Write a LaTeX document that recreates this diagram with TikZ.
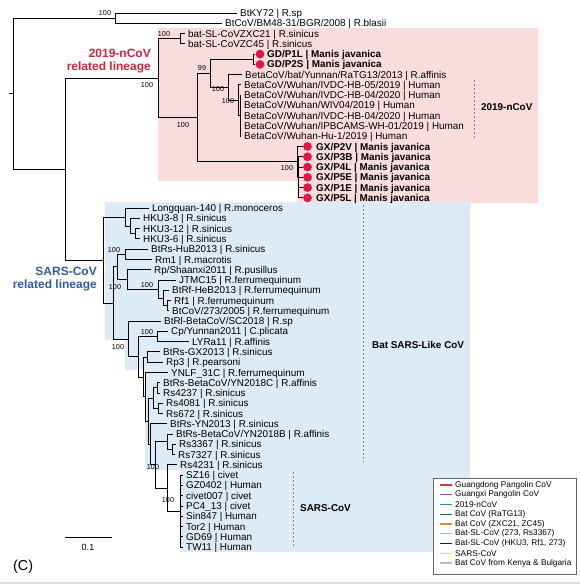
\documentclass[tikz,border=0pt]{standalone}
\usepackage{fontspec}
\setmainfont{Liberation Sans}
\usepackage{xcolor}
\definecolor{ncovpink}{HTML}{F9DDDD}
\definecolor{sarsblue}{HTML}{DDEBF6}
\definecolor{ncovred}{HTML}{D2233C}
\definecolor{sarsink}{HTML}{2F5BA5}
\definecolor{pangored}{HTML}{E3164B}
\definecolor{legGD}{HTML}{D9303E}
\definecolor{legGX}{HTML}{7B4BA6}
\definecolor{legNCoV}{HTML}{2A86C8}
\definecolor{legRaTG}{HTML}{1E6B36}
\definecolor{legZXC}{HTML}{E08A3C}
\definecolor{legRs}{HTML}{92C7B8}
\definecolor{legHKU}{HTML}{1B1A55}
\definecolor{legSARS}{HTML}{F7E342}
\definecolor{legKenya}{HTML}{BBBBBB}

\begin{document}
\begin{tikzpicture}[x=1pt,y=-1pt]
    % Define styles
    \tikzstyle{tiplabel}=[anchor=west, inner sep=0pt, text height=7.6pt, text depth=0.5pt, font=\fontsize{9.9}{10}\selectfont]
    \tikzstyle{boldtip}=[tiplabel, font=\fontsize{9.9}{10}\selectfont\bfseries]
    \tikzstyle{boot}=[inner sep=0pt, font=\fontsize{7.2}{8}\selectfont]
    \tikzstyle{pdot}=[circle, fill=pangored, inner sep=0pt, minimum size=8.8pt]
    \tikzstyle{edge}=[line width=0.9pt]
    \tikzstyle{twig}=[line width=0.9pt, shorten >=3pt]
    \tikzstyle{cladebar}=[gray, line width=0.6pt, dash pattern=on 2pt off 2pt]
    \tikzstyle{cladename}=[anchor=base west, inner sep=0pt, font=\fontsize{9.9}{10}\selectfont\bfseries]
    \tikzstyle{lineage}=[anchor=base east, inner sep=0pt, font=\fontsize{12}{14}\selectfont\bfseries]
    \tikzstyle{legtext}=[anchor=west, inner sep=0pt, font=\fontsize{8.3}{9}\selectfont]
    \tikzstyle{legline}=[line width=1.2pt]

    \useasboundingbox (0,0) rectangle (580,584);

    % Highlighted lineages
    \fill[ncovpink] (158,28) -- (538,28) -- (538,203) -- (297,203) -- (297,181) -- (158,181) -- cycle;
    \fill[sarsblue] (105,202) -- (470,202) -- (470,552) -- (180,552) -- (180,470) -- (145,470)
        -- (145,370) -- (125,370) -- (125,340) -- (105,340) -- cycle;

    % Internal nodes
    \coordinate (R) at (13,93.7);
    \coordinate (O) at (115,18.2);
    \coordinate (N) at (65,169.2);
    \coordinate (C) at (158,78.2);
    \coordinate (Z) at (180,38.7);
    \coordinate (P) at (197,117.7);
    \coordinate (W) at (210,73.4);
    \coordinate (GD) at (253,59.3);
    \coordinate (V) at (228,87.5);
    \coordinate (Wh) at (238,100.3);
    \coordinate (Wh2) at (240,115.7);
    \coordinate (GX) at (297,161.9);
    \coordinate (GXs) at (298.5,177.4);
    \coordinate (S) at (103,260.1);
    \coordinate (LQ) at (125,217.1);
    \coordinate (HK) at (130,226.1);
    \coordinate (HK2) at (135,233.8);
    \coordinate (B) at (113,303.0);
    \coordinate (B1) at (117,266.9);
    \coordinate (H) at (125,254.4);
    \coordinate (Q) at (127,279.4);
    \coordinate (J) at (158,289.0);
    \coordinate (J2) at (163,298.0);
    \coordinate (J3) at (167,305.7);
    \coordinate (B2) at (128,339.0);
    \coordinate (D1) at (138,356.8);
    \coordinate (CL) at (157,336.5);
    \coordinate (D2) at (143,377.0);
    \coordinate (G) at (147,357.1);
    \coordinate (D3) at (145,396.9);
    \coordinate (D4) at (148,421.3);
    \coordinate (E) at (153,398.2);
    \coordinate (E1) at (157,387.9);
    \coordinate (E2) at (158,408.4);
    \coordinate (D5) at (150,444.4);
    \coordinate (D6) at (155,464.9);
    \coordinate (K) at (167,441.8);
    \coordinate (K2) at (172,449.5);
    \coordinate (L) at (167,488.0);
    \coordinate (SC) at (180,511.1);

    % Tip labels: outgroup and 2019-nCoV lineage
    \node[tiplabel] (l1) at (240,13.0) {BtKY72 | R.sp};
    \node[tiplabel] (l2) at (225,23.3) {BtCoV/BM48-31/BGR/2008 | R.blasii};
    \node[tiplabel] (l3) at (188,33.5) {bat-SL-CoVZXC21 | R.sinicus};
    \node[tiplabel] (l4) at (188,43.8) {bat-SL-CoVZC45 | R.sinicus};
    \node[pdot] (d5) at (260,54.1) {};
    \node[pdot] (d6) at (260,64.4) {};
    \node[boldtip] (l5) at (267,54.1) {GD/P1L | Manis javanica};
    \node[boldtip] (l6) at (267,64.4) {GD/P2S | Manis javanica};
    \node[tiplabel] (l7) at (245,74.6) {BetaCoV/bat/Yunnan/RaTG13/2013 | R.affinis};
    \node[tiplabel] (l8) at (244,84.9) {BetaCoV/Wuhan/IVDC-HB-05/2019 | Human};
    \node[tiplabel] (l9) at (244,95.2) {BetaCoV/Wuhan/IVDC-HB-04/2020 | Human};
    \node[tiplabel] (l10) at (244,105.4) {BetaCoV/Wuhan/WIV04/2019 | Human};
    \node[tiplabel] (l11) at (244,115.7) {BetaCoV/Wuhan/IVDC-HB-04/2020 | Human};
    \node[tiplabel] (l12) at (244,126.0) {BetaCoV/Wuhan/IPBCAMS-WH-01/2019 | Human};
    \node[tiplabel] (l13) at (244,136.2) {BetaCoV/Wuhan-Hu-1/2019 | Human};
    \node[pdot] (d14) at (307.5,146.5) {};
    \node[pdot] (d15) at (307.5,156.8) {};
    \node[pdot] (d16) at (307.5,167.1) {};
    \node[pdot] (d17) at (307.5,177.3) {};
    \node[pdot] (d18) at (307.5,187.6) {};
    \node[pdot] (d19) at (307.5,197.9) {};
    \node[boldtip] (l14) at (316,146.5) {GX/P2V | Manis javanica};
    \node[boldtip] (l15) at (316,156.8) {GX/P3B | Manis javanica};
    \node[boldtip] (l16) at (316,167.1) {GX/P4L | Manis javanica};
    \node[boldtip] (l17) at (316,177.3) {GX/P5E | Manis javanica};
    \node[boldtip] (l18) at (316,187.6) {GX/P1E | Manis javanica};
    \node[boldtip] (l19) at (316,197.9) {GX/P5L | Manis javanica};

    % Tip labels: SARS-CoV lineage
    \node[tiplabel] (l20) at (152,208.1) {Longquan-140 | R.monoceros};
    \node[tiplabel] (l21) at (143,218.4) {HKU3-8 | R.sinicus};
    \node[tiplabel] (l22) at (143,228.7) {HKU3-12 | R.sinicus};
    \node[tiplabel] (l23) at (143,238.9) {HKU3-6 | R.sinicus};
    \node[tiplabel] (l24) at (151,249.2) {BtRs-HuB2013 | R.sinicus};
    \node[tiplabel] (l25) at (155,259.5) {Rm1 | R.macrotis};
    \node[tiplabel] (l26) at (154,269.8) {Rp/Shaanxi2011 | R.pusillus};
    \node[tiplabel] (l27) at (179,280.0) {JTMC15 | R.ferrumequinum};
    \node[tiplabel] (l28) at (172,290.3) {BtRf-HeB2013 | R.ferrumequinum};
    \node[tiplabel] (l29) at (174,300.6) {Rf1 | R.ferrumequinum};
    \node[tiplabel] (l30) at (172,310.8) {BtCoV/273/2005 | R.ferrumequinum};
    \node[tiplabel] (l31) at (164,321.1) {BtRl-BetaCoV/SC2018 | R.sp};
    \node[tiplabel] (l32) at (171,331.4) {Cp/Yunnan2011 | C.plicata};
    \node[tiplabel] (l33) at (192,341.6) {LYRa11 | R.affinis};
    \node[tiplabel] (l34) at (163,351.9) {BtRs-GX2013 | R.sinicus};
    \node[tiplabel] (l35) at (166,362.2) {Rp3 | R.pearsoni};
    \node[tiplabel] (l36) at (171,372.5) {YNLF\_31C | R.ferrumequinum};
    \node[tiplabel] (l37) at (163,382.7) {BtRs-BetaCoV/YN2018C | R.affinis};
    \node[tiplabel] (l38) at (163,393.0) {Rs4237 | R.sinicus};
    \node[tiplabel] (l39) at (166,403.3) {Rs4081 | R.sinicus};
    \node[tiplabel] (l40) at (166,413.5) {Rs672 | R.sinicus};
    \node[tiplabel] (l41) at (170,423.8) {BtRs-YN2013 | R.sinicus};
    \node[tiplabel] (l42) at (176,434.1) {BtRs-BetaCoV/YN2018B | R.affinis};
    \node[tiplabel] (l43) at (179,444.3) {Rs3367 | R.sinicus};
    \node[tiplabel] (l44) at (178,454.6) {Rs7327 | R.sinicus};
    \node[tiplabel] (l45) at (180,464.9) {Rs4231 | R.sinicus};
    \node[tiplabel] (l46) at (186,475.2) {SZ16 | civet};
    \node[tiplabel] (l47) at (186,485.4) {GZ0402 | Human};
    \node[tiplabel] (l48) at (186,495.7) {civet007 | civet};
    \node[tiplabel] (l49) at (186,506.0) {PC4\_13 | civet};
    \node[tiplabel] (l50) at (186,516.2) {Sin847 | Human};
    \node[tiplabel] (l51) at (186,526.5) {Tor2 | Human};
    \node[tiplabel] (l52) at (186,536.8) {GD69 | Human};
    \node[tiplabel] (l53) at (186,547.0) {TW11 | Human};

    % Backbone
    \draw[edge] (R) ++(-4,0) -- (R);
    \draw[edge] (R) |- (O);
    \draw[edge] (R) |- (N);
    \draw[twig] (O) |- (l1);
    \draw[twig] (O) |- (l2);
    \draw[edge] (N) |- (C);
    \draw[edge] (N) |- (S);

    % 2019-nCoV related lineage
    \draw[edge] (C) |- (Z);
    \draw[edge] (C) |- (P);
    \draw[twig] (Z) |- (l3);
    \draw[twig] (Z) |- (l4);
    \draw[edge] (P) |- (W);
    \draw[edge] (P) |- (GX);
    \draw[edge] (W) |- (GD);
    \draw[edge] (W) |- (V);
    \draw[edge] (GD) |- (d5);
    \draw[edge] (GD) |- (d6);
    \draw[twig] (V) |- (l7);
    \draw[edge] (V) |- (Wh);
    \draw[twig] (Wh) |- (l8);
    \draw[edge] (Wh) |- (Wh2);
    \draw[twig] (Wh2) |- (l9);
    \draw[twig] (Wh2) |- (l10);
    \draw[twig] (Wh2) |- (l11);
    \draw[twig] (Wh2) |- (l12);
    \draw[twig] (Wh2) |- (l13);
    \draw[edge] (GX) |- (d14);
    \draw[edge] (GX) |- (GXs);
    \draw[edge] (GXs) |- (d15);
    \draw[edge] (GXs) |- (d16);
    \draw[edge] (GXs) |- (d17);
    \draw[edge] (GXs) |- (d18);
    \draw[edge] (GXs) |- (d19);

    % SARS-CoV related lineage
    \draw[edge] (S) |- (LQ);
    \draw[edge] (S) |- (B);
    \draw[twig] (LQ) |- (l20);
    \draw[edge] (LQ) |- (HK);
    \draw[twig] (HK) |- (l21);
    \draw[edge] (HK) |- (HK2);
    \draw[twig] (HK2) |- (l22);
    \draw[twig] (HK2) |- (l23);
    \draw[edge] (B) |- (B1);
    \draw[edge] (B) |- (B2);
    \draw[edge] (B1) |- (H);
    \draw[edge] (B1) |- (Q);
    \draw[twig] (H) |- (l24);
    \draw[twig] (H) |- (l25);
    \draw[twig] (Q) |- (l26);
    \draw[edge] (Q) |- (J);
    \draw[twig] (J) |- (l27);
    \draw[edge] (J) |- (J2);
    \draw[twig] (J2) |- (l28);
    \draw[edge] (J2) |- (J3);
    \draw[twig] (J3) |- (l29);
    \draw[twig] (J3) |- (l30);
    \draw[twig] (B2) |- (l31);
    \draw[edge] (B2) |- (D1);
    \draw[edge] (D1) |- (CL);
    \draw[edge] (D1) |- (D2);
    \draw[twig] (CL) |- (l32);
    \draw[twig] (CL) |- (l33);
    \draw[edge] (D2) |- (G);
    \draw[edge] (D2) |- (D3);
    \draw[twig] (G) |- (l34);
    \draw[twig] (G) |- (l35);
    \draw[twig] (D3) |- (l36);
    \draw[edge] (D3) |- (D4);
    \draw[edge] (D4) |- (E);
    \draw[edge] (D4) |- (D5);
    \draw[edge] (E) |- (E1);
    \draw[edge] (E) |- (E2);
    \draw[twig] (E1) |- (l37);
    \draw[twig] (E1) |- (l38);
    \draw[twig] (E2) |- (l39);
    \draw[twig] (E2) |- (l40);
    \draw[twig] (D5) |- (l41);
    \draw[edge] (D5) |- (D6);
    \draw[edge] (D6) |- (K);
    \draw[edge] (D6) |- (L);
    \draw[twig] (K) |- (l42);
    \draw[edge] (K) |- (K2);
    \draw[twig] (K2) |- (l43);
    \draw[twig] (K2) |- (l44);
    \draw[twig] (L) |- (l45);
    \draw[edge] (L) |- (SC);
    \draw[twig] (SC) |- (l46);
    \draw[twig] (SC) |- (l47);
    \draw[twig] (SC) |- (l48);
    \draw[twig] (SC) |- (l49);
    \draw[twig] (SC) |- (l50);
    \draw[twig] (SC) |- (l51);
    \draw[twig] (SC) |- (l52);
    \draw[twig] (SC) |- (l53);

    % Bootstrap values
    \node[boot] (b1) at (105,13) {100};
    \node[boot] (b2) at (164,34) {100};
    \node[boot] (b3) at (147,85) {100};
    \node[boot] (b4) at (202,68) {99};
    \node[boot] (b5) at (218,89) {100};
    \node[boot] (b6) at (228,101) {100};
    \node[boot] (b7) at (183,125) {100};
    \node[boot] (b8) at (287,168) {100};
    \node[boot] (b9) at (114,250) {100};
    \node[boot] (b10) at (115,287) {100};
    \node[boot] (b11) at (147,285) {100};
    \node[boot] (b12) at (147,332) {100};
    \node[boot] (b13) at (118,347) {100};
    \node[boot] (b14) at (153,467) {100};
    \node[boot] (b15) at (168,500) {100};

    % Lineage names
    \node[lineage, text=ncovred] (nl1) at (151,57.3) {2019-nCoV};
    \node[lineage, text=ncovred] (nl2) at (151,70.3) {related lineage};
    \node[lineage, text=sarsink] (sl1) at (97,275) {SARS-CoV};
    \node[lineage, text=sarsink] (sl2) at (97,288.5) {related lineage};

    % Clade brackets
    \draw[cladebar] (474,80) -- (474,139);
    \node[cladename] (c1) at (481,110.5) {2019-nCoV};
    \draw[cladebar] (363,205) -- (363,462);
    \node[cladename] (c2) at (372,348.5) {Bat SARS-Like CoV};
    \draw[cladebar] (293,472) -- (293,548);
    \node[cladename] (c3) at (300,511.7) {SARS-CoV};

    % Scale bar
    \draw[line width=1pt] (65,537) -- (112,537);
    \node[inner sep=0pt, font=\fontsize{9}{10}\selectfont] (sb) at (88,547) {0.1};

    % Panel letter
    \node[anchor=base west, inner sep=0pt, font=\fontsize{14.4}{16}\selectfont] (panel) at (13,570.5) {(C)};

    % Legend
    \draw[black!60, line width=0.5pt, fill=white] (433,478) rectangle (576,574);
    \node[legtext] (k1) at (455,485.0) {Guangdong Pangolin CoV};
    \node[legtext] (k2) at (455,494.8) {Guangxi Pangolin CoV};
    \node[legtext] (k3) at (455,504.5) {2019-nCoV};
    \node[legtext] (k4) at (455,514.3) {Bat CoV (RaTG13)};
    \node[legtext] (k5) at (455,524.0) {Bat CoV (ZXC21, ZC45)};
    \node[legtext] (k6) at (455,533.8) {Bat-SL-CoV (273, Rs3367)};
    \node[legtext] (k7) at (455,543.5) {Bat-SL-CoV (HKU3, Rf1, 273)};
    \node[legtext] (k8) at (455,553.3) {SARS-CoV};
    \node[legtext] (k9) at (455,563.0) {Bat CoV from Kenya \& Bulgaria};
    \draw[legline, legGD] ([xshift=-15pt]k1.west) -- ([xshift=-3pt]k1.west);
    \draw[legline, legGX] ([xshift=-15pt]k2.west) -- ([xshift=-3pt]k2.west);
    \draw[legline, legNCoV] ([xshift=-15pt]k3.west) -- ([xshift=-3pt]k3.west);
    \draw[legline, legRaTG] ([xshift=-15pt]k4.west) -- ([xshift=-3pt]k4.west);
    \draw[legline, legZXC] ([xshift=-15pt]k5.west) -- ([xshift=-3pt]k5.west);
    \draw[legline, legRs] ([xshift=-15pt]k6.west) -- ([xshift=-3pt]k6.west);
    \draw[legline, legHKU] ([xshift=-15pt]k7.west) -- ([xshift=-3pt]k7.west);
    \draw[legline, legSARS] ([xshift=-15pt]k8.west) -- ([xshift=-3pt]k8.west);
    \draw[legline, legKenya] ([xshift=-15pt]k9.west) -- ([xshift=-3pt]k9.west);

    % Bottom rule
    \fill[black!12] (0,582) rectangle (580,584);
\end{tikzpicture}
\end{document}
